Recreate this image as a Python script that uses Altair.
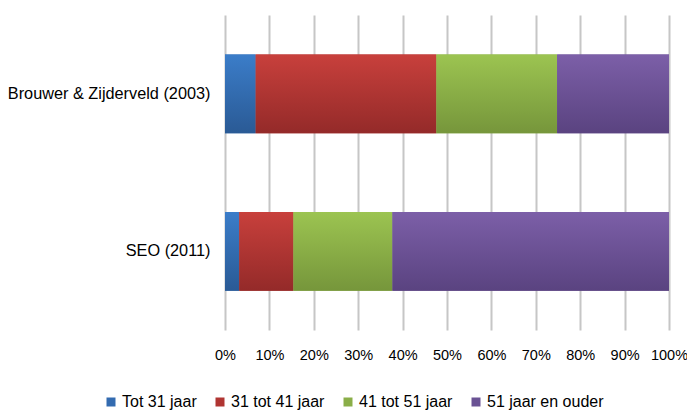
import altair as alt
import pandas as pd

categories = ["Brouwer & Zijderveld (2003)", "SEO (2011)"]
series = ["Tot 31 jaar", "31 tot 41 jaar", "41 tot 51 jaar", "51 jaar en ouder"]
brouwer = [6.9, 40.7, 27.2, 25.2]
seo = [3.2, 12.2, 22.3, 62.3]
x_ticks = [0, 0.1, 0.2, 0.3, 0.4, 0.5, 0.6, 0.7, 0.8, 0.9, 1.0]

solid = ["#336bb0", "#b03532", "#8aae48", "#6a5294"]
grad_top = ["#3b7dc9", "#c8403c", "#9cc451", "#7c5fa8"]
grad_bot = ["#2a5a95", "#942a29", "#76963b", "#5a4380"]

rows = []
for cat, vals in zip(categories, [brouwer, seo]):
    for i, (s, v) in enumerate(zip(series, vals)):
        rows.append({"cat": cat, "series": s, "idx": i, "value": v})
df = pd.DataFrame(rows)

FONT = "Liberation Sans"

base = alt.Chart(df).transform_stack(
    stack="value", as_=["x0", "x1"], groupby=["cat"],
    sort=[alt.SortField("idx", order="ascending")], offset="normalize"
)

y_enc = alt.Y("cat:N", sort=categories, title=None,
              scale=alt.Scale(paddingInner=0.5, paddingOuter=0.25),
              axis=alt.Axis(ticks=False, domain=False, labelPadding=15,
                            labelFontSize=16.3, labelFont=FONT,
                            labelColor="#000000", labelLimit=400))
x_enc = alt.X("x0:Q", title=None,
              scale=alt.Scale(domain=[0, 1], nice=False),
              axis=alt.Axis(values=x_ticks, format=".0%", ticks=False, domain=False,
                            labelFlush=False, labelPadding=18, labelFontSize=14.5,
                            labelFont=FONT, labelColor="#000000",
                            grid=True, gridColor="#c6c6c6", gridWidth=2,
                            labelOverlap=False))

legend_layer = base.mark_bar().encode(
    y=y_enc, x=x_enc, x2="x1:Q",
    color=alt.Color("series:N", sort=series,
                    scale=alt.Scale(domain=series, range=solid),
                    legend=alt.Legend(orient="none", direction="horizontal",
                                      legendX=-122, legendY=379, title=None,
                                      symbolType="square", symbolSize=81,
                                      symbolStrokeWidth=0, labelFontSize=16,
                                      labelFont=FONT, labelColor="#000000",
                                      labelOffset=3, columnPadding=15,
                                      labelLimit=300)),
)

layers = [legend_layer]
for i, s in enumerate(series):
    grad = alt.LinearGradient(
        gradient="linear",
        stops=[alt.GradientStop(color=grad_top[i], offset=0),
               alt.GradientStop(color=grad_bot[i], offset=1)],
        x1=0, x2=0, y1=0, y2=1)
    layers.append(
        base.transform_filter(alt.datum.series == s)
        .mark_bar(fill=grad)
        .encode(y=y_enc, x=x_enc, x2="x1:Q")
    )

chart = alt.layer(*layers).properties(
    width=444, height=315,
    autosize=alt.AutoSizeParams(type="none"),
    padding={"left": 217, "top": 7, "right": 18, "bottom": 85},
).configure_view(stroke=None)

chart.save("out.html", embed_options={"renderer": "svg", "actions": False})
